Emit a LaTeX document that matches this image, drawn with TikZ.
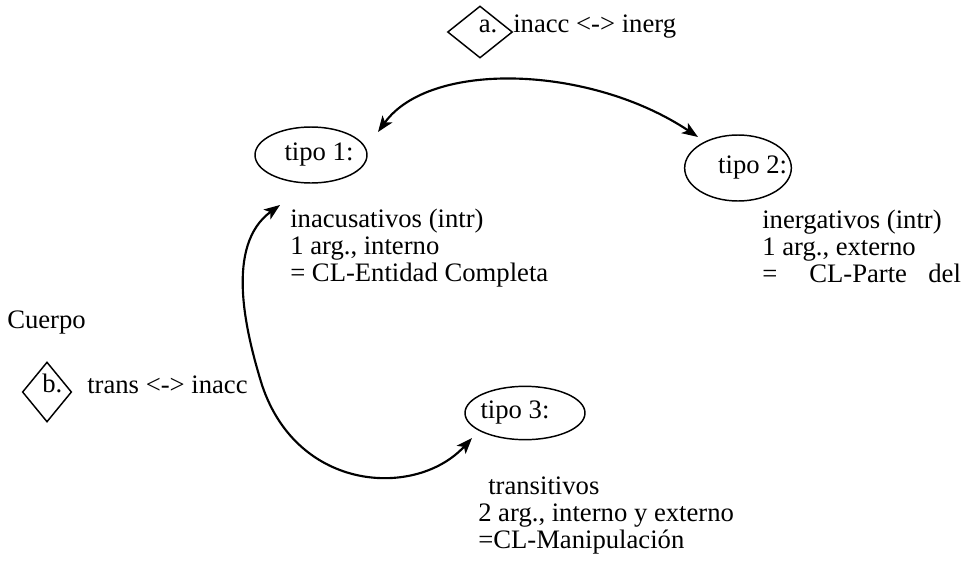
\documentclass[tikz,border=0pt]{standalone}
\usepackage{fontspec}
\setmainfont{Liberation Serif}
\usetikzlibrary{shapes.geometric, arrows.meta, positioning}

\begin{document}
\begin{tikzpicture}[x=0.75pt, y=-0.75pt, font=\fontsize{20}{20}\selectfont]
      \tikzset{ tipo/.style={draw=black, ellipse, line width=1.1pt, inner sep=0pt, text=black} }
      \tikzset{ caso/.style={draw=black, diamond, line width=1.1pt, inner sep=0pt, text=black, text height=0pt, text depth=0pt} }
      \tikzset{ desc/.style={align=left, anchor=north west, inner sep=0pt, text=black} }
      \tikzset{ lbl/.style ={anchor=base west, inner sep=0pt, text=black} }
      \tikzset{ rel/.style ={<->, >={Stealth[length=12pt, width=9pt, inset=3pt]}, line width=1.6pt} }

      \useasboundingbox (0,0) rectangle (968,568);

      \node[caso, minimum width=48.75pt, minimum height=39pt] (caso_a) at (480, 32) {\hspace*{6pt}a.\hspace*{-6pt}};
      \node[lbl] (caso_a_txt) at (513, 32) {inacc <-> inerg};

      \node[tipo, minimum width=84pt, minimum height=42pt  ] (tipo_1) at (311,155) {\hspace*{6pt}tipo 1:\hspace*{-6pt}};
      \node[tipo, minimum width=80pt, minimum height=49.5pt] (tipo_2) at (738,168) {\hspace*{11pt}tipo 2:\hspace*{-11pt}};
      \node[tipo, minimum width=90pt, minimum height=40pt  ] (tipo_3) at (525,413) {\hspace*{-7.5pt}tipo 3:\hspace*{7.5pt}};

      \node[desc] (desc_1) at (290,209) {inacusativos (intr)\\1 arg., interno\\= CL-Entidad Completa};
      \node[desc] (desc_2) at (762,210) {inergativos (intr)\\1 arg., externo\\=\hspace{24pt}CL-Parte\hspace{16pt}del};
      \node[desc] (desc_3) at (478,477) {\hspace{7.5pt}transitivos\\2 arg., interno y externo\\=CL-Manipulación};

      \node[lbl] (cuerpo) at (7,328) {Cuerpo};

      \node[caso, minimum width=37pt, minimum height=45pt] (caso_b) at (47,392) {\hspace*{4pt}b.\hspace*{-4pt}};
      \node[lbl] (caso_b_txt) at (87,393) {trans <-> inacc};

      \draw[rel] ([shift={(67,-23)}]tipo_1.center) .. controls +(52,-72) and +(-108,-72) .. ([shift={(-40,-31)}]tipo_2.center);
      \draw[rel] ([shift={(-31,50)}]tipo_1.center) .. controls +(-55,40) and +(-17,-55) .. (262,385)
                 .. controls +(36,108) and +(-55,60) .. ([shift={(-53,25)}]tipo_3.center);
\end{tikzpicture}
\end{document}
